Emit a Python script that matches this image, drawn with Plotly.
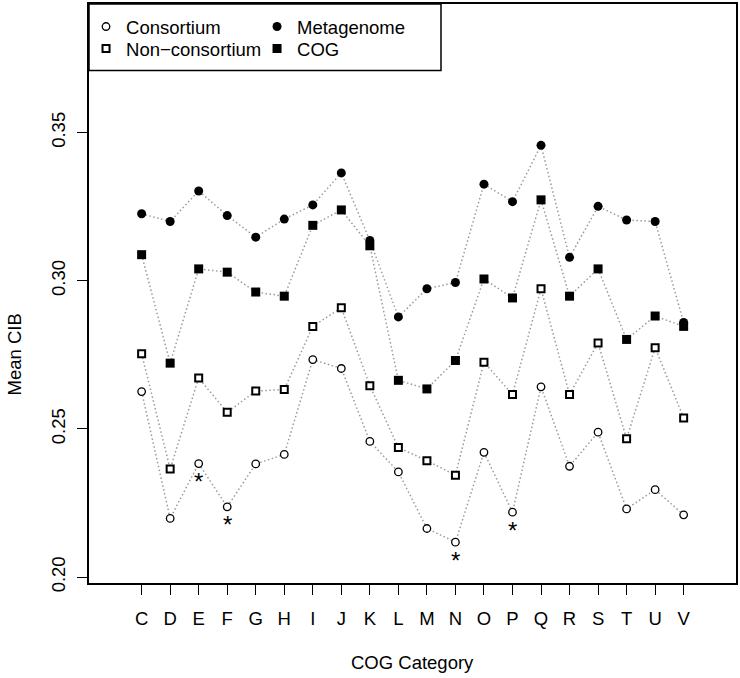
import plotly.graph_objects as go

categories = ["C", "D", "E", "F", "G", "H", "I", "J", "K", "L",
              "M", "N", "O", "P", "Q", "R", "S", "T", "U", "V"]

consortium = [0.2626, 0.2198, 0.2383, 0.2237, 0.2382, 0.2414, 0.2734, 0.2704, 0.2458, 0.2355,
              0.2164, 0.2118, 0.2421, 0.2219, 0.2642, 0.2374, 0.2489, 0.2230, 0.2295, 0.2210]
non_consortium = [0.2754, 0.2365, 0.2672, 0.2556, 0.2628, 0.2633, 0.2846, 0.2909, 0.2646, 0.2437,
                  0.2393, 0.2344, 0.2725, 0.2616, 0.2973, 0.2616, 0.2790, 0.2467, 0.2774, 0.2537]
metagenome = [0.3226, 0.3200, 0.3303, 0.3220, 0.3147, 0.3208, 0.3256, 0.3364, 0.3136, 0.2878,
              0.2973, 0.2994, 0.3326, 0.3267, 0.3457, 0.3079, 0.3251, 0.3205, 0.3200, 0.2859]
cog = [0.3088, 0.2722, 0.3040, 0.3029, 0.2962, 0.2948, 0.3187, 0.3239, 0.3118, 0.2664,
       0.2635, 0.2731, 0.3006, 0.2942, 0.3273, 0.2948, 0.3040, 0.2802, 0.2881, 0.2846]

significant = ["E", "F", "N", "P"]

y_ticks = [0.20, 0.25, 0.30, 0.35]

FONT = "Liberation Sans, Arial, sans-serif"
LINE = dict(color="#9a9a9a", width=1.5, dash="1.5px,2.5px")

# (name, values, marker, legend row)
series = [
    ("Consortium", consortium,
     dict(symbol="circle", size=7.5, color="white", line=dict(color="black", width=1.3)), "legend"),
    ("Metagenome", metagenome,
     dict(symbol="circle", size=9, color="black", line=dict(color="black", width=0)), "legend"),
    ("Non\u2212consortium", non_consortium,
     dict(symbol="square", size=7, color="white", line=dict(color="black", width=2)), "legend2"),
    ("COG", cog,
     dict(symbol="square", size=9, color="black", line=dict(color="black", width=0)), "legend2"),
]

fig = go.Figure()

# connecting dotted lines
for name, vals, mk, lg in series:
    fig.add_trace(go.Scatter(x=categories, y=vals, mode="lines", line=LINE,
                             showlegend=False, hoverinfo="skip"))

# markers (with legend entries)
for name, vals, mk, lg in series:
    fig.add_trace(go.Scatter(x=categories, y=vals, mode="markers", name=name,
                             marker=mk, legend=lg))

for cat in significant:
    idx = categories.index(cat)
    fig.add_annotation(
        x=cat, y=consortium[idx], text="*", showarrow=False,
        yshift=-18, font=dict(family=FONT, size=24, color="black"),
    )

# axis titles
fig.add_annotation(
    xref="paper", yref="paper", x=0.5, y=-0.138, text="COG Category",
    showarrow=False, xanchor="center", yanchor="middle",
    font=dict(family=FONT, size=18.5, color="black"),
)
fig.add_annotation(
    xref="paper", yref="paper", x=-0.115, y=0.394, text="Mean CIB",
    showarrow=False, xanchor="center", yanchor="middle", textangle=-90,
    font=dict(family=FONT, size=18.5, color="black"),
)

# legend frame
fig.add_shape(type="rect", xref="paper", yref="paper",
              x0=0, x1=(441 - 89) / 647, y0=1 - (70.5 - 4) / 579.5, y1=1,
              line=dict(color="black", width=1.5), fillcolor="white", layer="below")

legend_common = dict(
    orientation="h", yanchor="top", xanchor="left",
    bgcolor="rgba(0,0,0,0)", borderwidth=0,
    entrywidth=126, entrywidthmode="pixels",
    font=dict(family=FONT, size=18.5, color="black"),
    itemsizing="trace", tracegroupgap=0,
)

fig.update_layout(
    width=740, height=678,
    margin=dict(l=89, r=4, t=4, b=94.5, autoexpand=False),
    paper_bgcolor="white", plot_bgcolor="white",
    font=dict(family=FONT, size=18.5, color="black"),
    showlegend=True,
    legend=dict(x=-0.0046, y=0.9931, **legend_common),
    legend2=dict(x=-0.0046, y=0.9551, **legend_common),
    xaxis=dict(
        type="category", categoryorder="array", categoryarray=categories,
        range=[-1.845, 20.835], automargin=False,
        showline=True, linecolor="black", linewidth=1.5, mirror=True,
        ticks="outside", ticklen=10, tickwidth=1.3, tickcolor="black",
        showgrid=False, zeroline=False,
        tickfont=dict(family=FONT, size=18.5, color="black"),
        ticklabelstandoff=8,
    ),
    yaxis=dict(
        range=[0.19801, 0.39339], automargin=False,
        tickvals=y_ticks, tickformat=".2f", tickangle=-90,
        showline=True, linecolor="black", linewidth=1.5, mirror=True,
        ticks="outside", ticklen=10, tickwidth=1.3, tickcolor="black",
        showgrid=False, zeroline=False,
        tickfont=dict(family=FONT, size=18.5, color="black"),
        ticklabelstandoff=5,
    ),
)

fig.write_html("out.html", config={"displayModeBar": False},
               post_script="document.body.style.margin='0';")
